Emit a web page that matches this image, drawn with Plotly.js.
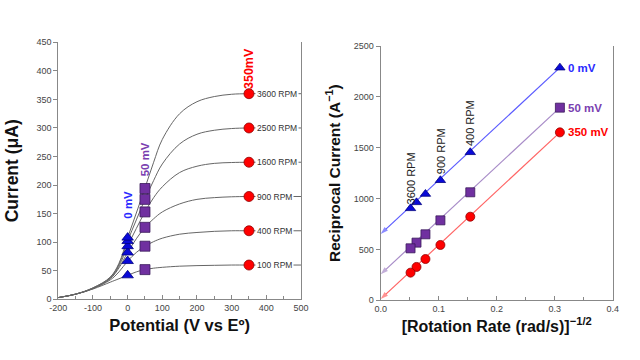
<!DOCTYPE html>
<html>
<head>
<meta charset="utf-8">
<script src="https://cdn.plot.ly/plotly-3.0.1.min.js"></script>
<style>html,body{margin:0;padding:0;background:#fff;}#chart{width:640px;height:360px;}</style>
</head>
<body>
<div id="chart"></div>
<script>
// ---- Left panel: current vs potential ----
var rpmLabels = ["100 RPM", "400 RPM", "900 RPM", "1600 RPM", "2500 RPM", "3600 RPM"];
var potentialX = [-200, -150, -100, -50, -25, 0, 25, 50, 75, 100, 150, 200, 250, 300, 350, 500];
var curve100  = [3, 9, 18, 30, 36, 42, 48, 52, 54.5, 56, 58, 59, 59.5, 60, 60, 60];
var curve400  = [3, 9, 19, 34, 48, 67, 82, 93, 101, 107, 114, 117, 119, 120, 120, 120];
var curve900  = [3, 9, 19, 36, 55, 82, 106, 126, 141, 153, 167, 175, 178, 179.5, 180, 180];
var curve1600 = [3, 9, 19, 37, 58, 93, 124, 153, 178, 197, 222, 233, 238, 239.5, 240, 240];
var curve2500 = [3, 9, 20, 38, 61, 102, 139, 175, 208, 237, 272, 289, 296, 299, 300, 300];
var curve3600 = [3, 9, 20, 39, 63, 108, 151, 195, 240, 280, 325, 346, 355, 359, 360, 360];
var curves = [curve100, curve400, curve900, curve1600, curve2500, curve3600];

var current0mV   = [42, 67, 82, 93, 102, 108];
var current50mV  = [52, 93, 126, 153, 175, 194];
var current350mV = [60, 120, 180, 240, 300, 360];

var potentialTickVals = [-200, -100, 0, 100, 200, 300, 400, 500];
var potentialTickText = ["-200", "-100", "0", "100", "200", "300", "400", "500"];

// ---- Right panel: Koutecky-Levich ----
var rotRate = [0.309, 0.1545, 0.103, 0.0772, 0.0618, 0.0515]; // 100..3600 RPM
var recip0mV   = [2287, 1455, 1180, 1045, 963, 904];
var recip50mV  = [1894, 1062, 786, 649, 567, 511];
var recip350mV = [1651, 822, 544, 406, 328, 272];
var intercepts = [652, 256, 12]; // 0, 50, 350 mV at x = 0
var kLabels = ["0 mV", "50 mV", "350 mV"];
var rotLabelIdx = [5, 2, 1]; // 3600, 900, 400 RPM
var rotLabelText = ["3600 RPM", "900 RPM", "400 RPM"];

var FONT = "Liberation Sans, Arial, sans-serif";
var BLUE = "#0a0ad8", PURPLE = "#7030a0", RED = "#ff0000";
var traces = [];

curves.forEach(function (c) {
  traces.push({x: potentialX, y: c, mode: "lines", line: {color: "#666", width: 1, shape: "spline", smoothing: 1},
    xaxis: "x", yaxis: "y", hoverinfo: "skip", showlegend: false});
});
var zeros = current0mV.map(function () { return 0; });
var fifties = current50mV.map(function () { return 50; });
var threefifty = current350mV.map(function () { return 350; });
traces.push({x: zeros, y: current0mV, mode: "markers", marker: {symbol: "triangle-up", size: 10, color: BLUE, line: {color: "#000080", width: 0.8}}, xaxis: "x", yaxis: "y", cliponaxis: false, showlegend: false});
traces.push({x: fifties, y: current50mV, mode: "markers", marker: {symbol: "square", size: 10, color: PURPLE, line: {color: "#3a1a5a", width: 0.8}}, xaxis: "x", yaxis: "y", cliponaxis: false, showlegend: false});
traces.push({x: threefifty, y: current350mV, mode: "markers", marker: {symbol: "circle", size: 10, color: RED, line: {color: "#900000", width: 0.8}}, xaxis: "x", yaxis: "y", cliponaxis: false, showlegend: false});

// right panel lines with arrow at intercept
var sets = [[recip0mV, "#5a5aff", BLUE, "triangle-up", "#000080"], [recip50mV, "#a88cc8", PURPLE, "square", "#3a1a5a"], [recip350mV, "#ff6464", RED, "circle", "#900000"]];
sets.forEach(function (s, i) {
  traces.push({x: [rotRate[0], 0], y: [s[0][0], intercepts[i]], mode: "lines+markers",
    line: {color: s[1], width: 1.2},
    marker: {symbol: ["circle", "arrow"], size: [0, 8], angleref: "previous", color: s[1], line: {width: 0}},
    xaxis: "x2", yaxis: "y2", cliponaxis: false, showlegend: false, hoverinfo: "skip"});
});
sets.forEach(function (s) {
  traces.push({x: rotRate, y: s[0], mode: "markers", marker: {symbol: s[3], size: 9, color: s[2], line: {color: s[4], width: 0.8}},
    xaxis: "x2", yaxis: "y2", cliponaxis: false, showlegend: false});
});

var ann = [];
rpmLabels.forEach(function (t, i) {
  ann.push({x: 368, y: current350mV[i], xref: "x", yref: "y", text: t, showarrow: false, xanchor: "left",
    font: {family: FONT, size: 8.5, color: "#333"}, bgcolor: "#fff", borderpad: 1});
});
ann.push({x: 0, y: 165, xref: "x", yref: "y", text: "<b>0 mV</b>", textangle: -90, showarrow: false, font: {family: FONT, size: 11.5, color: "#2a2aff"}});
ann.push({x: 50, y: 245, xref: "x", yref: "y", text: "<b>50 mV</b>", textangle: -90, showarrow: false, font: {family: FONT, size: 11.5, color: "#7a40b0"}});
ann.push({x: 350, y: 405, xref: "x", yref: "y", text: "<b>350mV</b>", textangle: -90, showarrow: false, font: {family: FONT, size: 12.5, color: RED}});

var lastVals = [recip0mV[0], recip50mV[0], recip350mV[0]];
var kColors = ["#2a2aff", "#7a40b0", RED];
kLabels.forEach(function (t, i) {
  ann.push({x: 0.32, y: lastVals[i], xref: "x2", yref: "y2", text: "<b>" + t + "</b>", showarrow: false, xanchor: "left",
    font: {family: FONT, size: 11.5, color: kColors[i]}});
});
rotLabelIdx.forEach(function (idx, k) {
  ann.push({x: rotRate[idx], y: recip0mV[idx] + 290, xref: "x2", yref: "y2", text: rotLabelText[k], textangle: -90, showarrow: false,
    font: {family: FONT, size: 11, color: "#222"}});
});

var axBase = {showgrid: false, zeroline: false, showline: true, linecolor: "#888", linewidth: 1,
  tickfont: {family: FONT, size: 9, color: "#444"}, tickcolor: "#888", ticklen: 4};

var layout = {
  width: 640, height: 360, margin: {l: 0, r: 0, t: 0, b: 0},
  paper_bgcolor: "#fff", plot_bgcolor: "#fff", showlegend: false,
  font: {family: FONT},
  xaxis: Object.assign({}, axBase, {domain: [0.0911, 0.4703], range: [-200, 500], tickmode: "array",
    tickvals: potentialTickVals, ticktext: potentialTickText, ticks: "inside",
    minor: {dtick: 50, tick0: 0, ticks: "inside", ticklen: 3, tickcolor: "#888"},
    title: {text: "<b>Potential (V vs Eº)</b>", font: {family: FONT, size: 16.5, color: "#111"}, standoff: 7}, anchor: "y"}),
  yaxis: Object.assign({}, axBase, {domain: [0.1686, 0.8825], range: [0, 450], dtick: 50, ticks: "outside", mirror: true,
    title: {text: "<b>Current (μA)</b>", font: {family: FONT, size: 17.5, color: "#111"}, standoff: 13}, anchor: "x"}),
  xaxis2: Object.assign({}, axBase, {domain: [0.5948, 0.9573], range: [0, 0.4], dtick: 0.1, tickformat: ".1f", ticks: "inside",
    minor: {dtick: 0.05, ticks: "inside", ticklen: 3, tickcolor: "#888"},
    title: {text: "<b>[Rotation Rate (rad/s)]<sup>−1/2</sup></b>", font: {family: FONT, size: 16, color: "#111"}, standoff: 7}, anchor: "y2"}),
  yaxis2: Object.assign({}, axBase, {domain: [0.1658, 0.8722], range: [0, 2500], dtick: 500, ticks: "outside", mirror: true,
    title: {text: "<b>Reciprocal Current (A<sup>−1</sup>)</b>", font: {family: FONT, size: 15.5, color: "#111"}, standoff: 9}, anchor: "x2"}),
  annotations: ann
};

Plotly.newPlot("chart", traces, layout, {staticPlot: true, displayModeBar: false});
</script>
</body>
</html>
